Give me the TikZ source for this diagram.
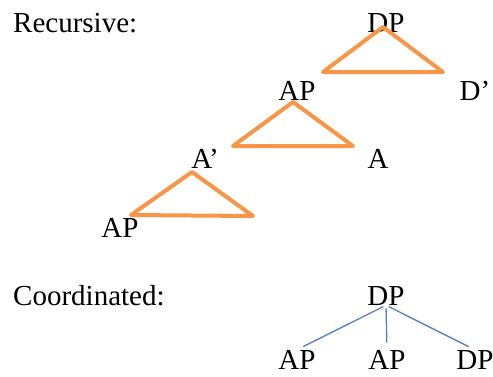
\documentclass[tikz,border=0pt]{standalone}
\usepackage{fontspec}
\setmainfont{Liberation Serif}
\definecolor{triorange}{HTML}{F79646}
\definecolor{lineblue}{HTML}{4F81BD}
\tikzset{
  cat/.style={inner sep=0pt, anchor=base, font=\fontsize{29}{33}\selectfont},
  caption/.style={cat, anchor=base west},
  tri/.style={triorange, line width=4pt, line join=round, line cap=round},
  coordline/.style={lineblue, line width=1.3pt, shorten <=3pt, shorten >=7pt}
}
\begin{document}
\begin{tikzpicture}[x=1pt, y=-1pt]
    \useasboundingbox (0,0) rectangle (493,376);

    % recursive structure
    \node[caption] (rec) at (13,32) {Recursive:};
    \node[cat] (dpa) at (386,32) {DP};
    \node[cat] (apa) at (297,100) {AP};
    \node[cat] (dprime) at (475,100) {D’};
    \node[cat] (aprime) at (205,168) {A’};
    \node[cat] (ahead) at (378,168) {A};
    \node[cat] (apb) at (120,237) {AP};

    \draw[tri] (383,27) -- (443,72) -- (323,72) -- cycle;
    \draw[tri] (293,102) -- (353,146) -- (233,146) -- cycle;
    \draw[tri] (192,172) -- (253,216) -- (131,215) -- cycle;

    % coordinated structure
    \node[caption] (coord) at (13,305) {Coordinated:};
    \node[cat] (dpc) at (386,305) {DP};
    \node[cat] (apl) at (297,369) {AP};
    \node[cat] (apm) at (387,369) {AP};
    \node[cat] (dpr) at (475,369) {DP};

    \draw[coordline] (dpc.south) -- (apl.north);
    \draw[coordline] (dpc.south) -- (apm.north);
    \draw[coordline] (dpc.south) -- (dpr.north);
\end{tikzpicture}
\end{document}
